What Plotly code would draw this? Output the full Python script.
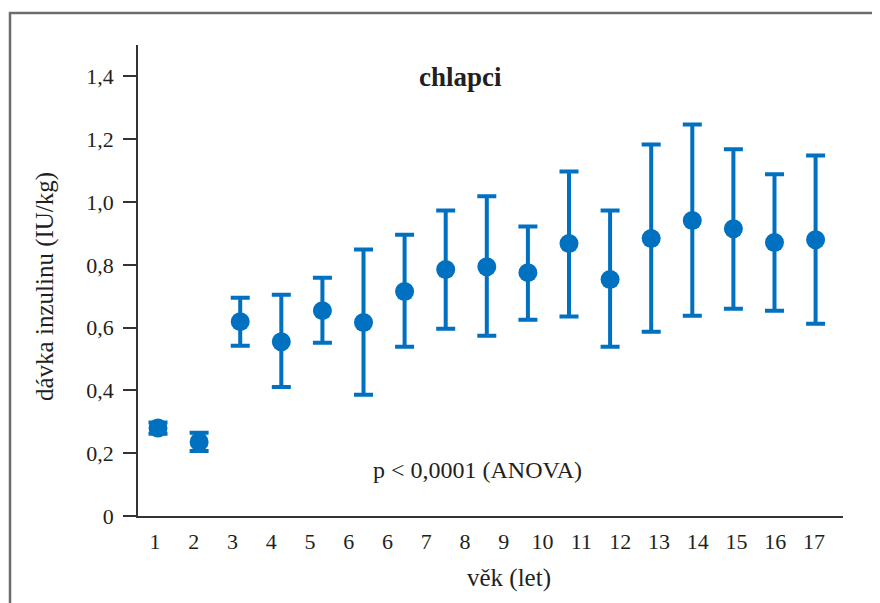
import plotly.graph_objects as go

# ---- data ----
groups = list(range(1, 18))
means = [0.280, 0.236, 0.619, 0.555, 0.654, 0.616, 0.715, 0.785, 0.794, 0.775,
         0.868, 0.753, 0.884, 0.941, 0.915, 0.871, 0.880]
upper = [0.298, 0.265, 0.695, 0.705, 0.759, 0.849, 0.896, 0.973, 1.018, 0.922,
         1.097, 0.973, 1.183, 1.247, 1.168, 1.088, 1.148]
lower = [0.262, 0.207, 0.542, 0.411, 0.552, 0.386, 0.539, 0.596, 0.574, 0.625,
         0.635, 0.539, 0.587, 0.638, 0.660, 0.654, 0.612]
age_labels = ["1", "2", "3", "4", "5", "6", "6", "7", "8", "9", "10", "11",
              "12", "13", "14", "15", "16", "17"]
y_ticks = [0, 0.2, 0.4, 0.6, 0.8, 1.0, 1.2, 1.4]
y_tick_labels = ["0", "0,2", "0,4", "0,6", "0,8", "1,0", "1,2", "1,4"]

BLUE = "#0070C0"
FONT = "Liberation Serif"
TXT = "#231f20"

err_plus = [u - m for u, m in zip(upper, means)]
err_minus = [m - l for m, l in zip(means, lower)]

fig = go.Figure()
fig.add_trace(go.Scatter(
    x=groups, y=means, mode="markers",
    marker=dict(color=BLUE, size=19),
    error_y=dict(type="data", array=err_plus, arrayminus=err_minus,
                 color=BLUE, thickness=4, width=9.5, symmetric=False),
    showlegend=False, hoverinfo="skip",
))
# invisible trace to hold the label axis
fig.add_trace(go.Scatter(
    x=list(range(len(age_labels))), y=[None] * len(age_labels),
    xaxis="x2", yaxis="y", mode="markers", showlegend=False, hoverinfo="skip",
))

OFF = 8  # page body offset
W, H = 880, 603
L, R, T, B = 138 - OFF, 37 + OFF, 45 - OFF, 87 + OFF
pw, ph = W - L - R, H - T - B


def px(x):
    return (x - OFF - L) / pw


def py(y):
    return 1 - (y - OFF - T) / ph


def note(text, x, y, size, angle=0):
    return dict(text=text, xref="paper", yref="paper", x=px(x), y=py(y),
                xanchor="center", yanchor="middle", showarrow=False,
                textangle=angle, font=dict(family=FONT, size=size, color=TXT))


fig.update_layout(
    width=W, height=H,
    margin=dict(l=L, r=R, t=T, b=B, pad=0),
    paper_bgcolor="white", plot_bgcolor="white",
    font=dict(family=FONT, size=21, color=TXT),
    xaxis=dict(range=[0.513, 17.667], showgrid=False, zeroline=False,
               showline=True, linecolor="#333333", linewidth=1.5,
               showticklabels=False, ticks=""),
    xaxis2=dict(range=[-0.439, 17.75], overlaying="x", anchor="y", side="bottom",
                showgrid=False, zeroline=False, showline=False,
                tickmode="array", tickvals=list(range(len(age_labels))),
                ticktext=age_labels, ticks="", ticklabelstandoff=10,
                tickfont=dict(family=FONT, size=22, color=TXT)),
    yaxis=dict(range=[0, 1.5], showgrid=False, zeroline=False,
               showline=True, linecolor="#333333", linewidth=1.5,
               tickmode="array", tickvals=y_ticks, ticktext=y_tick_labels,
               ticks="outside", ticklen=13, tickwidth=1.5, tickcolor="#333333",
               ticklabelstandoff=5,
               tickfont=dict(family=FONT, size=22, color=TXT)),
    shapes=[dict(type="rect", xref="paper", yref="paper",
                 x0=px(10), x1=px(900), y0=py(620), y1=py(13),
                 line=dict(color="#6d6d6d", width=2.5), layer="below")],
    annotations=[
        note("<b>chlapci</b>", 460, 77, 27),
        note("p < 0,0001 (ANOVA)", 477, 470, 24),
        note("věk (let)", 509, 578, 25),
        note("dávka inzulinu (IU/kg)", 45, 287, 25, angle=-90),
    ],
)

fig.write_html("out.html")
